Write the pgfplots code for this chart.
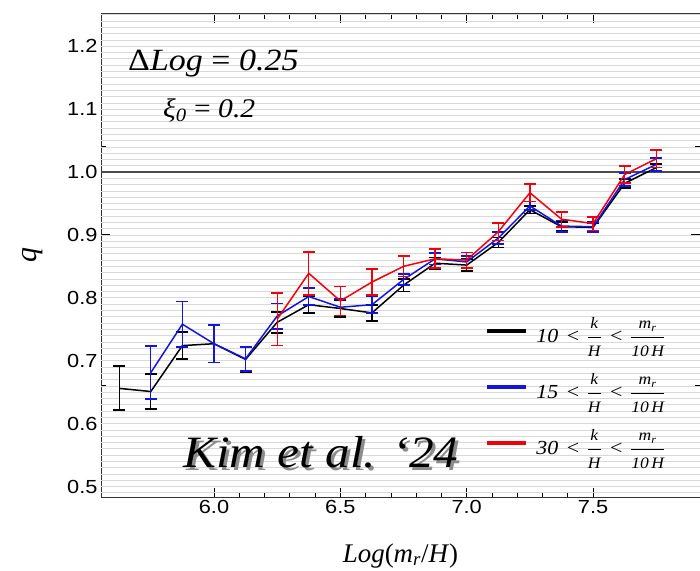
\documentclass[border=0pt]{standalone}
\usepackage{amsmath}
\usepackage{fontspec}
\setmainfont{Liberation Serif}
\newfontfamily\sansf{Liberation Sans}[FakeStretch=1.15]
\newfontfamily\wide{Liberation Serif}[FakeStretch=1.1]
\usepackage{pgfplots}
\pgfplotsset{compat=1.18}
\usepackage{pgfplotstable}

\pgfplotstableread{
x y e
5.625 0.656 0.035
5.75 0.651 0.028
5.875 0.724 0.021
6.0 0.727 0.030
6.125 0.702 0.020
6.25 0.761 0.017
6.375 0.789 0.013
6.5 0.783 0.013
6.625 0.776 0.013
6.75 0.820 0.010
6.875 0.855 0.009
7.0 0.852 0.010
7.125 0.888 0.008
7.25 0.940 0.006
7.375 0.913 0.007
7.5 0.912 0.007
7.625 0.982 0.007
7.75 1.007 0.006
}\blackdata

\pgfplotstableread{
x y e
5.75 0.681 0.042
5.875 0.758 0.036
6.0 0.727 0.030
6.125 0.703 0.019
6.25 0.771 0.020
6.375 0.802 0.014
6.5 0.785 0.013
6.625 0.789 0.013
6.75 0.829 0.009
6.875 0.862 0.009
7.0 0.857 0.009
7.125 0.895 0.009
7.25 0.946 0.007
7.375 0.914 0.009
7.5 0.913 0.008
7.625 0.988 0.010
7.75 1.012 0.010
}\bluedata

\pgfplotstableread{
x y e
6.25 0.766 0.042
6.375 0.839 0.034
6.5 0.795 0.023
6.625 0.825 0.021
6.75 0.850 0.016
6.875 0.862 0.015
7.0 0.860 0.012
7.125 0.905 0.014
7.25 0.967 0.014
7.375 0.925 0.012
7.5 0.918 0.011
7.625 0.996 0.013
7.75 1.021 0.014
}\reddata

\definecolor{myred}{RGB}{240,0,10}
\definecolor{myblue}{RGB}{20,20,225}

\newcommand{\fs}{\wide\fontsize{16}{16}\selectfont\itshape}
\newcommand{\leg}[1]{\hspace{8bp}\textit{#1}\hspace{3bp} < \hspace{2bp}$\dfrac{\text{\fs k}}{\text{\fs H}}$\hspace{3bp} < \hspace{2bp}$\dfrac{\text{\fs m\textsubscript{r}}}{\text{\fs 10\,H}}$}

\begin{document}
\begin{tikzpicture}
\begin{axis}[
  scale only axis, width=599bp, height=483bp,
  xmin=5.553, xmax=7.923, ymin=0.4833, ymax=1.2512,
  xtick={6,6.5,7,7.5}, minor x tick num=4,
  ytick={0.5,0.6,0.7,0.8,0.9,1.0,1.1,1.2}, minor y tick num=4,
  tick align=inside, major tick length=9bp, minor tick length=5bp,
  xtick pos=both, xticklabel pos=lower,
  ytick pos=both, yticklabel pos=left,
  tick style={black, line width=0.8pt},
  axis line style={line width=1pt, black!80},
  /pgf/number format/assume math mode=true,
  ticklabel style={font=\sansf\fontsize{19}{19}\selectfont},
  xticklabel style={/pgf/number format/.cd, fixed, fixed zerofill, precision=1},
  yticklabel style={/pgf/number format/.cd, fixed, fixed zerofill, precision=1},
  extra y ticks={0.49,0.50,...,1.25},
  extra y tick labels={},
  extra y tick style={grid=major, major tick length=0pt, major grid style={black!15, line width=0.6pt}},
  xlabel={\textit{Log}(\textit{m}\textsubscript{\textit{r}}/\textit{H})},
  xlabel style={font=\fontsize{27}{27}\selectfont, at={(rel axis cs:0.5,0)}, anchor=base, yshift=-65bp},
  legend style={at={(rel axis cs:0.639,0.380)}, anchor=north west, draw=none, fill=none,
     font=\wide\fontsize{20}{22}\selectfont, row sep=25.5bp, cells={anchor=west}},
  legend image code/.code={\fill (0bp,-1.5bp) rectangle (38bp,1.5bp);},
  error bars/error bar style={line width=1.3pt},
  error bars/error mark=|,
  error bars/error mark options={mark size=6bp, line width=1.8pt},
]
\addplot[forget plot, black!70, line width=1.2pt] coordinates {(5.5,1) (8,1)};

\addplot[black, line width=1.5pt, mark=none,
  error bars/.cd, y dir=both, y explicit]
  table[x=x, y=y, y error=e] {\blackdata};
\addlegendentry{\leg{10}}
\addplot[myblue, line width=1.5pt, mark=none,
  error bars/.cd, y dir=both, y explicit]
  table[x=x, y=y, y error=e] {\bluedata};
\addlegendentry{\leg{15}}
\addplot[myred, line width=1.5pt, mark=none,
  error bars/.cd, y dir=both, y explicit]
  table[x=x, y=y, y error=e] {\reddata};
\addlegendentry{\leg{30}}

\node[anchor=base west, inner sep=0pt, font=\wide\fontsize{31}{31}\selectfont]
  at (rel axis cs:0,0) [xshift=27bp, yshift=426bp] {Δ\textit{Log} = \textit{0.25}};
\node[anchor=base west, inner sep=0pt, font=\wide\fontsize{27}{27}\selectfont]
  at (rel axis cs:0,0) [xshift=62bp, yshift=379bp] {\textit{ξ\textsubscript{0}} = \textit{0.2}};
\node[anchor=base west, inner sep=0pt, font=\wide\fontsize{45}{45}\selectfont]
  at (rel axis cs:0,0) [xshift=82bp, yshift=30bp]
  {\rlap{\hspace{3bp}\raisebox{-3bp}{\color{black!45}\textit{Kim et al. ‘24}}}\textit{Kim et al. ‘24}};
\end{axis}
\path (current axis.south west) ++(-68bp,241.5bp) node[rotate=90, anchor=center, inner sep=0pt, font=\fontsize{30}{30}\selectfont] {\textit{q}};
\pgfresetboundingbox
\path[use as bounding box] (current axis.south west) ++(-101bp,-74bp) rectangle ++(700bp,571bp);
\end{tikzpicture}
\end{document}
